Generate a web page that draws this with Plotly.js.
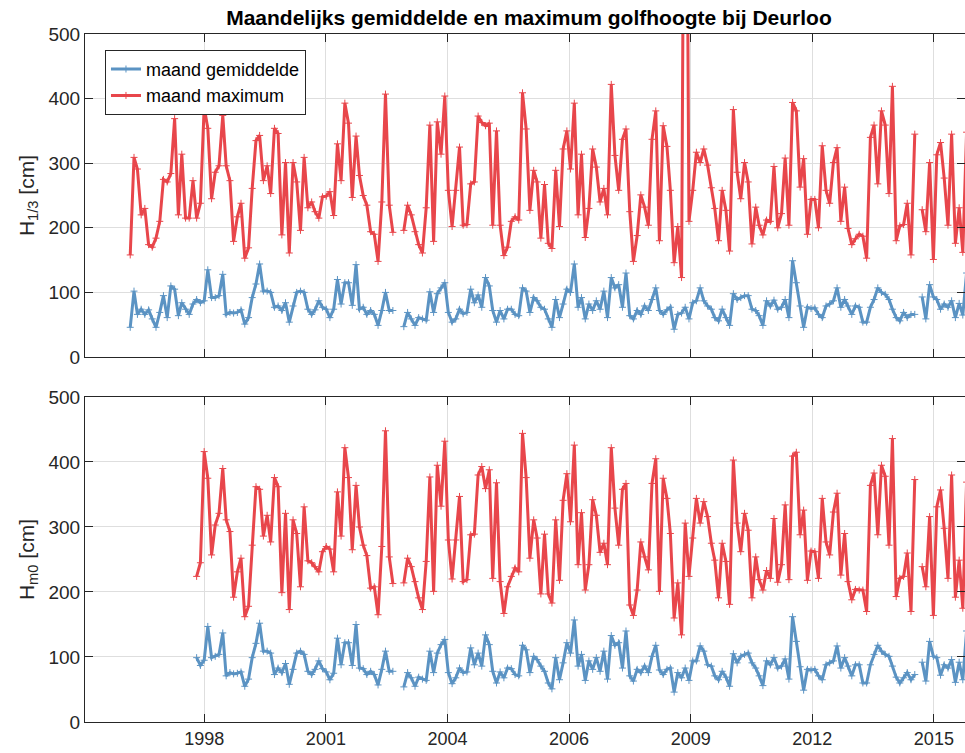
<!DOCTYPE html>
<html>
<head>
<meta charset="utf-8">
<script src="https://cdn.plot.ly/plotly-3.0.1.min.js"></script>
<style>html,body{margin:0;padding:0;background:#fff;}#chart{width:965px;height:753px;}</style>
</head>
<body>
<div id="chart"></div>
<script>
// Monthly series H1/3 (start 1997-01)
const H13Start = [1997, 1];
const H13_mean = [46,102,66,74,66,73,59,46,69,95,
61,110,105,64,84,74,66,82,89,84,
87,135,92,92,95,128,66,69,68,69,
73,51,61,92,113,144,102,102,100,77,
79,72,84,54,79,100,102,100,74,66,
73,87,77,74,61,74,120,82,115,115,
80,143,74,77,66,72,66,49,72,100,
72,72,null,null,47,69,59,49,61,59,
57,101,69,98,107,115,69,54,59,74,
67,69,105,84,96,77,123,110,72,54,
72,59,74,74,66,64,107,102,69,92,
87,77,74,59,46,89,61,82,105,100,
144,77,92,59,82,72,87,74,102,61,
123,107,112,77,130,64,59,72,66,79,
72,89,107,72,66,73,77,43,66,68,
77,59,84,87,107,87,79,74,61,56,
74,61,49,98,89,92,95,95,74,72,
64,49,87,79,88,74,77,89,61,149,
115,79,46,77,75,76,66,61,79,82,
87,107,77,89,79,66,79,77,54,54,
77,89,107,100,97,89,74,61,56,69,
61,66,66,null,93,59,112,93,89,74,
82,77,87,61,83,65,130];
const H13_max = [158,309,291,220,230,174,170,184,210,275,
271,284,369,220,314,215,215,273,215,238,
387,354,245,286,296,374,296,273,179,217,
238,153,169,261,335,343,273,296,253,354,
346,189,301,161,301,271,196,309,231,240,
225,215,248,249,256,219,330,273,393,362,
247,342,281,250,235,194,190,148,240,407,
235,193,null,null,196,235,220,194,174,161,
231,359,179,364,314,404,258,202,258,325,
204,205,268,271,373,363,358,362,204,350,
204,157,170,210,217,212,409,353,227,289,
271,184,267,176,168,289,202,322,350,291,
393,220,314,185,230,322,294,240,261,220,
422,312,258,337,353,225,148,188,251,232,
204,337,381,180,358,326,258,146,202,123,
1200,210,258,317,301,322,297,262,230,180,
258,227,164,383,286,245,301,271,175,232,
204,189,212,210,295,200,222,308,204,394,
381,263,307,190,244,244,200,327,258,238,
301,324,210,263,199,174,183,190,187,153,
340,359,268,381,359,253,419,180,203,205,
238,158,345,null,228,194,301,151,313,332,
277,204,345,176,231,162,348];

// Monthly series Hm0 (start 1998-07)
const Hm0Start = [1998, 7];
const Hm0_mean = [99,87,95,147,99,101,104,137,71,76,
74,75,77,55,66,99,121,152,109,109,
106,73,83,76,90,58,81,106,109,104,
78,73,81,94,82,77,65,75,129,88,
122,122,87,150,83,82,73,78,73,57,
81,109,78,78,null,null,54,76,68,55,
69,66,64,109,76,106,119,127,76,59,
68,83,76,77,114,88,106,86,134,119,
78,60,77,68,83,82,73,71,118,111,
76,101,96,86,78,60,51,99,65,91,
122,106,157,86,104,64,94,81,99,78,
109,66,133,118,122,83,140,71,63,81,
76,86,76,101,118,80,73,81,83,46,
76,68,83,64,94,94,117,109,88,86,
71,65,78,69,55,105,91,101,104,106,
91,83,71,56,94,88,99,83,86,97,
66,162,124,85,49,81,80,81,71,65,
88,91,94,117,83,99,86,71,88,88,
60,60,88,104,118,109,104,101,86,69,
60,68,76,65,73,null,92,63,124,101,
99,72,88,83,96,61,92,65,140];
const Hm0_max = [224,245,416,375,257,303,321,390,311,293,
192,231,252,162,178,272,362,358,286,318,
277,376,362,199,321,173,311,290,208,331,
248,245,239,231,262,270,266,231,354,286,
422,376,265,364,300,272,256,206,208,165,
270,448,254,213,null,null,214,252,239,216,
191,173,247,377,201,395,332,432,280,220,
280,347,216,219,288,289,380,393,359,388,
221,368,216,167,208,224,237,231,444,376,
252,311,283,197,289,197,183,311,218,341,
382,308,426,242,322,203,242,342,318,261,
275,242,422,329,272,358,367,180,164,203,
277,254,234,367,405,201,375,344,290,160,
214,134,306,224,283,344,306,339,316,275,
249,191,275,247,181,403,306,262,321,295,
191,254,219,203,233,221,313,215,242,334,
219,409,415,288,326,218,263,262,221,344,
277,257,323,352,226,290,216,188,204,203,
203,170,364,383,288,395,378,272,436,193,
221,224,260,170,373,null,239,208,316,164,
331,357,298,221,380,192,249,175,369];

const tickDates = ['1998-09-02','2001-05-29','2004-02-23','2006-11-19','2009-08-15','2012-05-11','2015-02-05'];
const tickLabels = ['1998','2001','2004','2006','2009','2012','2015'];
const seriesNames = ['maand gemiddelde', 'maand maximum'];
const xRange = ['1995-12-26', '2015-10-19'];

function monthDates(start, n) {
  const out = [];
  let y = start[0], m = start[1];
  for (let k = 0; k < n; k++) {
    out.push(y + '-' + String(m).padStart(2, '0') + '-01');
    m++; if (m > 12) { m = 1; y++; }
  }
  return out;
}

const BLUE = '#5b93c3';
const RED = '#e8464b';
const xTop = monthDates(H13Start, H13_mean.length);
const xBot = monthDates(Hm0Start, Hm0_mean.length);

function tr(x, y, name, color, xa, ya, show) {
  return {
    x: x, y: y, name: name, type: 'scatter', mode: 'lines+markers',
    xaxis: xa, yaxis: ya, showlegend: show,
    line: {color: color, width: 3},
    marker: {symbol: 'cross-thin', size: 5, color: color, line: {color: color, width: 1}},
    hoverinfo: 'x+y'
  };
}

const data = [
  tr(xTop, H13_mean, seriesNames[0], BLUE, 'x', 'y', true),
  tr(xTop, H13_max, seriesNames[1], RED, 'x', 'y', true),
  tr(xBot, Hm0_mean, seriesNames[0], BLUE, 'x2', 'y2', false),
  tr(xBot, Hm0_max, seriesNames[1], RED, 'x2', 'y2', false)
];

const axisCol = '#262626';
function xax(anchor, labels) {
  return {
    anchor: anchor, domain: [0, 1], type: 'date', range: xRange,
    tickmode: 'array', tickvals: tickDates, ticktext: tickLabels,
    showticklabels: labels, ticks: 'inside', ticklen: 8, tickcolor: axisCol,
    showline: true, linecolor: axisCol, linewidth: 1, mirror: 'ticks',
    showgrid: true, gridcolor: '#dedede', zeroline: false,
    tickfont: {size: 18, color: axisCol}
  };
}
function yax(anchor, domain, title) {
  return {
    anchor: anchor, domain: domain, range: [0, 500], dtick: 100, tick0: 0,
    ticks: 'inside', ticklen: 8, tickcolor: axisCol,
    showline: true, linecolor: axisCol, linewidth: 1, mirror: 'ticks',
    showgrid: true, gridcolor: '#dedede', zeroline: false,
    tickfont: {size: 19, color: axisCol},
    title: {text: title, font: {size: 21, color: axisCol}, standoff: 8}
  };
}

const layout = {
  width: 965, height: 753,
  margin: {l: 85, r: 0, t: 34, b: 31},
  paper_bgcolor: '#ffffff', plot_bgcolor: '#ffffff',
  font: {family: 'Liberation Sans, Arial, sans-serif', size: 18, color: axisCol},
  title: {
    text: '<b>Maandelijks gemiddelde en maximum golfhoogte bij Deurloo</b>',
    font: {size: 21, color: '#000000'},
    xref: 'paper', x: 0.5045, xanchor: 'center',
    yref: 'container', y: 0.976, yanchor: 'middle'
  },
  xaxis: xax('y', false),
  yaxis: yax('x', [0.5305, 1], 'H<sub>1/3</sub> [cm]'),
  xaxis2: xax('y2', true),
  yaxis2: yax('x2', [0, 0.4724], 'H<sub>m0</sub> [cm]'),
  legend: {
    x: 0.0227, y: 0.977, xanchor: 'left', yanchor: 'top',
    bgcolor: '#ffffff', bordercolor: axisCol, borderwidth: 1,
    font: {size: 18, color: '#000000'}, tracegroupgap: 0
  },
  showlegend: true
};

Plotly.newPlot('chart', data, layout, {displayModeBar: false, staticPlot: true});
</script>
</body>
</html>
